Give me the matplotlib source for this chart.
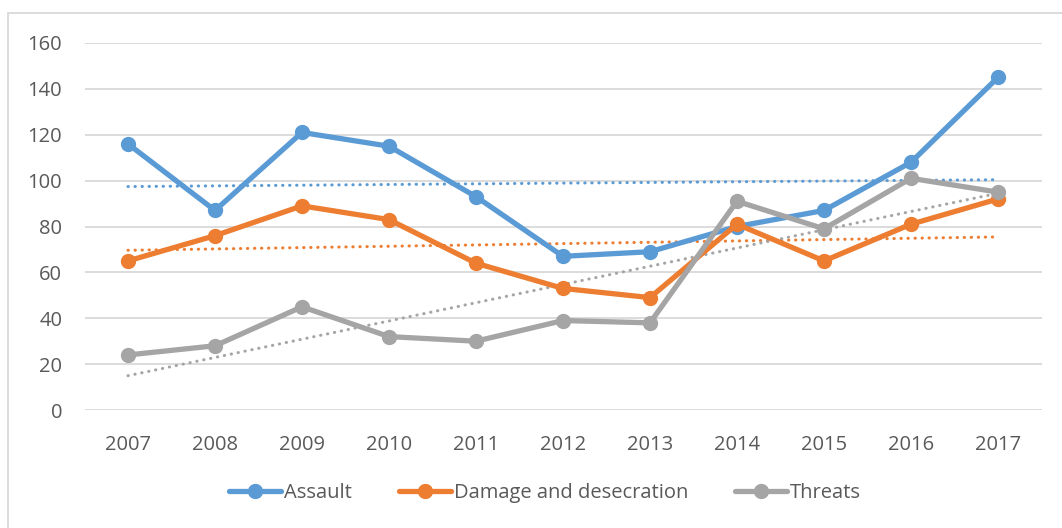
import numpy as np
import matplotlib
matplotlib.use("Agg")
import matplotlib.pyplot as plt
from matplotlib.patches import Rectangle

years = [2007, 2008, 2009, 2010, 2011, 2012, 2013, 2014, 2015, 2016, 2017]
assault = [116, 87, 121, 115, 93, 67, 69, 80, 87, 108, 145]
damage = [65, 76, 89, 83, 64, 53, 49, 81, 65, 81, 92]
threats = [24, 28, 45, 32, 30, 39, 38, 91, 79, 101, 95]

series = [
    ("Assault", assault, "#5B9BD5"),
    ("Damage and desecration", damage, "#ED7D31"),
    ("Threats", threats, "#A5A5A5"),
]

plt.rcParams["font.family"] = ["Open Sans", "DejaVu Sans"]

fig = plt.figure(figsize=(10.62, 5.28), dpi=100)
ax = fig.add_axes([84.5 / 1062, 1 - 410 / 528, 957 / 1062, 367 / 528])

# outer chart frame (cut off at right and bottom, like the source)
fig.patches.append(Rectangle((8 / 1062, -0.1), 1.2, 1 - 13 / 528 + 0.1,
                             transform=fig.transFigure, fill=False,
                             edgecolor="#D9D9D9", linewidth=1.3))

x = np.arange(len(years))
handles = []
for name, vals, col in series:
    h, = ax.plot(x, vals, color=col, linewidth=3.8, marker="o", markersize=10,
                 solid_capstyle="round", label=name, zorder=3)
    handles.append(h)

# linear trendlines
for name, vals, col in series:
    k, b = np.polyfit(x, vals, 1)
    ax.plot(x, k * x + b, color=col, linewidth=2.2, linestyle=(0, (0.1, 2.2)),
            dash_capstyle="round", zorder=2)

ax.set_xlim(-0.5, len(years) - 0.5)
ax.set_ylim(0, 160)
ax.set_yticks(range(0, 161, 20))
ax.set_xticks(x)
ax.set_xticklabels([str(y) for y in years])
ax.yaxis.grid(True, color="#D9D9D9", linewidth=1.3)
ax.set_axisbelow(True)
for s in ax.spines.values():
    s.set_visible(False)
ax.tick_params(length=0, labelsize=14.5, colors="#595959")
ax.tick_params(axis="x", pad=18)
ax.tick_params(axis="y", pad=16)

fig.legend(handles=handles, loc="center", bbox_to_anchor=(545 / 1062, 1 - 493 / 528),
           ncol=3, frameon=False, fontsize=14.5, handlelength=2.6,
           columnspacing=2.3, handletextpad=0.15, labelcolor="#595959")

fig.savefig("out.png", dpi=100)
